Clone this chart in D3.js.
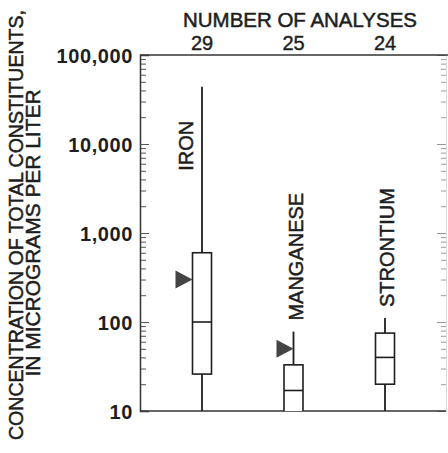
<!DOCTYPE html>
<meta charset="utf-8" />
<script src="https://d3js.org/d3.v7.min.js"></script>
<div id="chart"></div>
<script>
  // data (micrograms per liter)
  const elements = ["IRON", "MANGANESE", "STRONTIUM"];
  const analyses = [29, 25, 24];
  const maxima = [44000, 78, 111];
  const upperQuartiles = [600, 33, 75];
  const medians = [100, 17, 40];
  const lowerQuartiles = [26, 6, 20];
  const minima = [5, 3, 5];
  // triangles: secondary drinking-water levels (iron, manganese)
  const standards = [300, 50, null];
  const yTicks = [10, 100, 1000, 10000, 100000];

  const W = 448, H = 453;
  const margin = { top: 55, right: 2, bottom: 42, left: 140 };
  const width = W - margin.left - margin.right,
    height = H - margin.top - margin.bottom;

  const ink = "#1e1e1e";

  const svg = d3
    .select("#chart")
    .append("svg")
    .attr("width", W)
    .attr("height", H)
    .style("font-family", "'Liberation Sans', Arial, sans-serif");

  const g = svg
    .append("g")
    .attr("transform", `translate(${margin.left}, ${margin.top})`);

  const y = d3.scaleLog().domain([10, 100000]).range([height, 0]);
  const x = d3.scalePoint().domain(elements).range([62, 245]);

  // minor tick values 2..9 in each decade
  const minor = [];
  for (let p = 1; p < 5; p++) {
    for (let m = 2; m < 10; m++) minor.push(m * Math.pow(10, p));
  }

  // left axis, ticks pointing inward
  g.append("g")
    .attr("class", "minor")
    .call(d3.axisLeft(y).tickValues(minor).tickSize(-6).tickFormat(""))
    .call((a) => a.select(".domain").remove());
  g.append("g")
    .call(
      d3
        .axisLeft(y)
        .tickValues(yTicks)
        .tickSize(-9)
        .tickPadding(7)
        .tickFormat(d3.format(","))
    )
    .call((a) => a.select(".domain").attr("stroke", "#333").attr("stroke-width", 1.5))
    .selectAll("text")
    .style("font-size", "20px")
    .style("font-weight", "bold")
    .style("letter-spacing", "0.6px")
    .style("fill", ink)
    .attr("dy", "0.36em");
  g.selectAll(".tick line").attr("stroke", "#555");

  // right axis, ticks only
  const right = g.append("g").attr("transform", `translate(${width}, 0)`);
  right
    .append("g")
    .call(d3.axisRight(y).tickValues(minor).tickSize(-5).tickFormat(""))
    .call((a) => a.select(".domain").remove());
  right
    .append("g")
    .call(d3.axisRight(y).tickValues(yTicks).tickSize(-9).tickFormat(""))
    .call((a) => a.select(".domain").attr("stroke", "#ddd"));
  right.selectAll(".tick line").attr("stroke", "#999");

  // top and bottom frame lines
  g.append("line")
    .attr("x1", 0).attr("x2", width + 2)
    .attr("y1", 0).attr("y2", 0)
    .attr("stroke", "#333").attr("stroke-width", 1.5);
  g.append("line")
    .attr("x1", 0).attr("x2", width)
    .attr("y1", height).attr("y2", height)
    .attr("stroke", "#333").attr("stroke-width", 1.5);

  g.append("clipPath")
    .attr("id", "plot")
    .append("rect")
    .attr("width", width)
    .attr("height", height);

  const boxW = 19;
  const boxes = g
    .append("g")
    .attr("clip-path", "url(#plot)")
    .selectAll("g")
    .data(elements)
    .join("g")
    .attr("transform", (d) => `translate(${x(d)}, 0)`);

  // whiskers
  boxes
    .append("line")
    .attr("y1", (d, i) => y(maxima[i]))
    .attr("y2", (d, i) => y(upperQuartiles[i]))
    .attr("stroke", ink)
    .attr("stroke-width", 1.8);
  boxes
    .append("line")
    .attr("y1", (d, i) => y(lowerQuartiles[i]))
    .attr("y2", (d, i) => y(minima[i]))
    .attr("stroke", ink)
    .attr("stroke-width", 1.8);

  // boxes
  boxes
    .append("rect")
    .attr("x", -boxW / 2)
    .attr("y", (d, i) => y(upperQuartiles[i]))
    .attr("width", boxW)
    .attr("height", (d, i) => y(lowerQuartiles[i]) - y(upperQuartiles[i]))
    .attr("fill", "white")
    .attr("stroke", ink)
    .attr("stroke-width", 1.6);
  boxes
    .append("line")
    .attr("x1", -boxW / 2)
    .attr("x2", boxW / 2)
    .attr("y1", (d, i) => y(medians[i]))
    .attr("y2", (d, i) => y(medians[i]))
    .attr("stroke", ink)
    .attr("stroke-width", 1.6);

  // standard triangles pointing at the box or whisker
  boxes
    .filter((d, i) => standards[i] != null)
    .append("path")
    .attr("d", (d, i) => {
      const v = standards[i];
      const inBox = v <= upperQuartiles[i] && v >= lowerQuartiles[i];
      const tip = inBox ? -boxW / 2 : 0;
      const ty = y(v);
      return `M${tip},${ty} L${tip - 17},${ty - 9} L${tip - 17},${ty + 9} Z`;
    })
    .attr("fill", "#444");

  // element labels, rotated
  const labelAt = (d, i) =>
    i === 0 ? [x(d) - 16, y(5000)] : [x(d) + 2, y(maxima[i]) - 11];
  g.selectAll(".elabel")
    .data(elements)
    .join("text")
    .attr("class", "elabel")
    .attr("transform", (d, i) => {
      const [lx, ly] = labelAt(d, i);
      return `translate(${lx}, ${ly}) rotate(-90)`;
    })
    .attr("dy", "0.35em")
    .style("font-size", "20px")
    .style("fill", ink)
    .style("stroke", ink)
    .style("stroke-width", 0.5)
    .text((d) => d);

  // number of analyses
  g.selectAll(".count")
    .data(elements)
    .join("text")
    .attr("class", "count")
    .attr("x", (d) => x(d))
    .attr("y", -5)
    .attr("text-anchor", "middle")
    .style("font-size", "20px")
    .style("fill", ink)
    .style("stroke", ink)
    .style("stroke-width", 0.4)
    .text((d, i) => analyses[i]);

  svg
    .append("text")
    .attr("x", 300)
    .attr("y", 27)
    .attr("text-anchor", "middle")
    .attr("textLength", 234)
    .attr("lengthAdjust", "spacingAndGlyphs")
    .style("font-size", "20px")
    .style("fill", ink)
    .style("stroke", ink)
    .style("stroke-width", 0.5)
    .text("NUMBER OF ANALYSES");

  // y axis title
  svg
    .append("text")
    .attr("transform", "translate(23, 225) rotate(-90)")
    .attr("text-anchor", "middle")
    .attr("textLength", 430)
    .attr("lengthAdjust", "spacingAndGlyphs")
    .style("font-size", "20px")
    .style("fill", ink)
    .style("stroke", ink)
    .style("stroke-width", 0.5)
    .text("CONCENTRATION OF TOTAL CONSTITUENTS,");
  svg
    .append("text")
    .attr("transform", "translate(40, 233) rotate(-90)")
    .attr("text-anchor", "middle")
    .attr("textLength", 287)
    .attr("lengthAdjust", "spacingAndGlyphs")
    .style("font-size", "20px")
    .style("fill", ink)
    .style("stroke", ink)
    .style("stroke-width", 0.5)
    .text("IN MICROGRAMS PER LITER");
</script>
<style>
  body {
    margin: 0;
    background-color: white;
  }
</style>
